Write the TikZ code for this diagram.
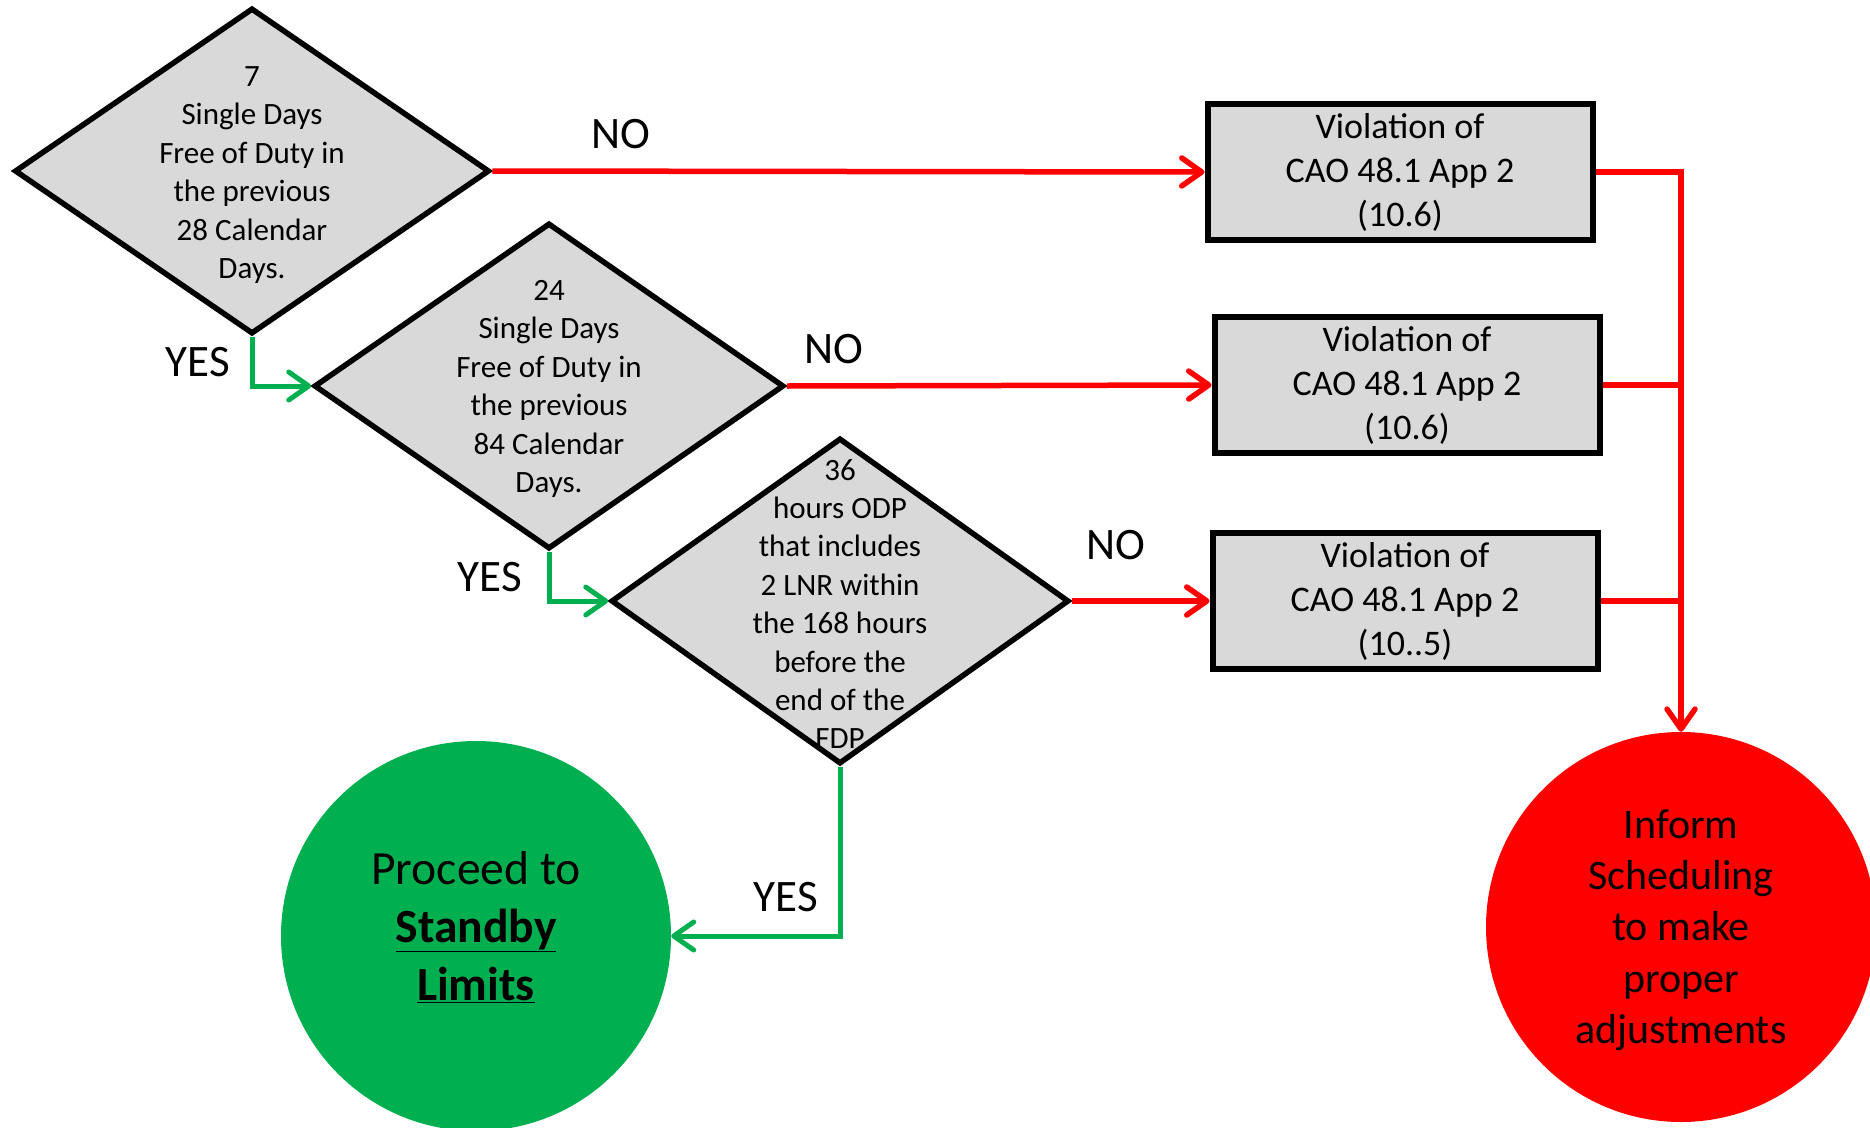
\documentclass[tikz,border=0pt]{standalone}
\usepackage{fontspec}
\setmainfont{Carlito}
\usetikzlibrary{shapes.geometric,arrows.meta}
\definecolor{boxgray}{HTML}{D9D9D9}
\definecolor{myred}{HTML}{FF0000}
\definecolor{mygreen}{HTML}{00B050}
\tikzset{
  dia/.style={shape=diamond,draw=black,fill=boxgray,line width=5.5pt,inner sep=0pt,line join=miter},
  diatext/.style={align=center,font=\fontsize{31}{38.4}\selectfont,inner sep=0pt},
  viobox/.style={draw=black,fill=boxgray,line width=6pt,minimum width=385pt,minimum height=136pt,inner sep=0pt,align=center,font=\fontsize{36}{44}\selectfont},
  endcirc/.style={circle,minimum size=390pt,inner sep=0pt,align=center},
  lbl/.style={font=\fontsize{45}{54}\selectfont,inner sep=0pt},
  tipV/.style={-{Straight Barb[length=20pt,width=28pt,round]}},
  redline/.style={draw=myred,line width=5.5pt},
  greenline/.style={draw=mygreen,line width=5pt},
}
\begin{document}
\begin{tikzpicture}[x=1pt,y=-1pt]
\useasboundingbox (0,0) rectangle (1870,1127);
% decision diamonds
\node[dia,minimum width=475pt,minimum height=326pt] (d1) at (252,171) {};
\node[diatext] (t1) at (252,175) {7\\Single Days\\Free of Duty in\\the previous\\28 Calendar\\Days.};
\node[dia,minimum width=470pt,minimum height=326pt] (d2) at (549,386) {};
\node[diatext] (t2) at (549,389) {24\\Single Days\\Free of Duty in\\the previous\\84 Calendar\\Days.};
\node[dia,minimum width=458pt,minimum height=326pt] (d3) at (840,601) {};
\node[diatext] (t3) at (840,604) {36\\hours ODP\\that includes\\2 LNR within\\the 168 hours\\before the\\end of the\\FDP};
% violation boxes
\node[viobox] (b1) at (1400,172) {Violation of\\CAO 48.1 App 2\\(10.6)};
\node[viobox] (b2) at (1407,385) {Violation of\\CAO 48.1 App 2\\(10.6)};
\node[viobox] (b3) at (1405,601) {Violation of\\CAO 48.1 App 2\\(10..5)};
\node[endcirc,fill=myred] (rc) at (1681,927) {};
\node[align=center,font=\fontsize{42}{51.3}\selectfont,inner sep=0pt] (rct) at (1681,930) {Inform\\Scheduling\\to make\\proper\\adjustments};
\node[endcirc,fill=mygreen] (gc) at (476,936) {};
\node[align=center,font=\fontsize{47.6}{58}\selectfont,inner sep=0pt] (gct) at (476,927) {Proceed to\\\textbf{\underline{Standby}}\\\textbf{\underline{Limits}}};
% NO connectors
\draw[redline,tipV] (d1.east) -- (b1.west);
\draw[redline,tipV] (d2.east) -- (b2.west);
\draw[redline,tipV] (d3.east) -- (b3.west);
\draw[redline,tipV,line join=miter] (b1.east) -| (rc.north);
\draw[redline] (b2.east) -- (b2.east -| rc.north);
\draw[redline] (b3.east) -- (b3.east -| rc.north);
% YES connectors
\draw[greenline,tipV] (d1.south) |- (d2.west);
\draw[greenline,tipV] (d2.south) |- (d3.west);
\draw[greenline,tipV] (d3.south) |- (gc.east);
% labels
\node[lbl] (no1) at (621,134) {NO};
\node[lbl] (no2) at (834,349) {NO};
\node[lbl] (no3) at (1116,545) {NO};
\node[lbl] (yes1) at (198,362) {YES};
\node[lbl] (yes2) at (490,577) {YES};
\node[lbl] (yes3) at (786,897) {YES};
\end{tikzpicture}
\end{document}
